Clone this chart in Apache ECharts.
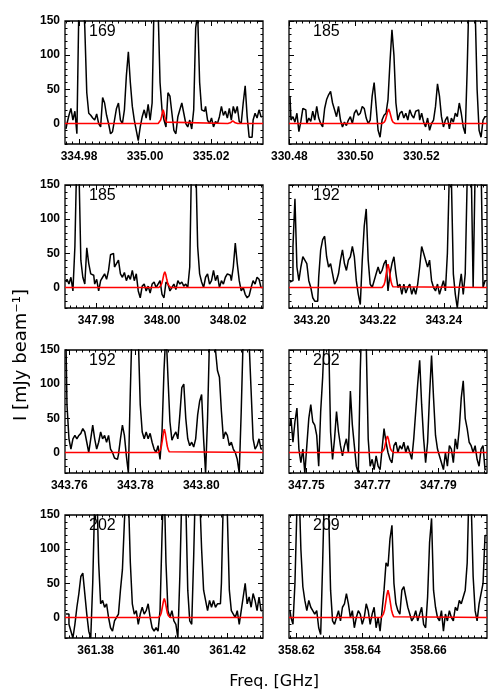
<!DOCTYPE html>
<html>
<head>
<meta charset="utf-8">
<script src="https://cdn.jsdelivr.net/npm/echarts@6/dist/echarts.min.js"></script>
<style>
html, body { margin: 0; background: #fff; }
#chart { width: 500px; height: 700px; }
</style>
</head>
<body>
<div id="chart"></div>
<script>
// panel labels and frequency windows (GHz)
const panelLabels = ['169', '185', '185', '192', '192', '202', '202', '209'];
const xMin = [334.97576, 330.4799, 347.97056, 343.1931, 343.7587, 347.74473, 361.3707, 358.61776];
const xSpan = 0.06;
const xTicks = [
  [334.98, 335.00, 335.02], [330.48, 330.50, 330.52],
  [347.98, 348.00, 348.02], [343.20, 343.22, 343.24],
  [343.76, 343.78, 343.80], [347.75, 347.77, 347.79],
  [361.38, 361.40, 361.42], [358.62, 358.64, 358.66]
];
const yTicks = [0, 50, 100, 150];
const chanWidth = 0.0006;

// observed spectra, mJy/beam, one value per channel
const spec1 = [
  -8, 0, 12, 22, 5, 18, -15, 170, 220, 200,
  140, 45, 15, 12, 8, 5, 14, 0, -5, 38,
  30, 12, 0, -15, -12, 5, 22, 30, 5, 0,
  20, 70, 105, 60, 25, 5, -10, -25, -5, 10,
  20, 8, 28, 5, 30, 180, 230, 170, 60, 20,
  5, -5, 45, 40, 15, -10, -15, 10, 20, 30,
  15, 0, -5, 5, -8, 20, 140, 160, 60, 20,
  18, 25, 5, 0, 8, -5, 3, 0, 10, 25,
  12, 18, 8, 22, 5, 25, 15, 25, 3, 0,
  30, 55, 10, -20, -20, 5, 15, 8, 20, 10
];
const spec2 = [
  40, 5, 10, 2, 15, -12, 3, 22, 20, 0,
  8, 3, 18, 5, 25, 8, 0, -5, 22, 35,
  42, 47, 30, 20, 10, 25, 5, -5, 2, -3,
  5, 10, 0, 15, 20, 12, 15, 25, 22, 8,
  0, 5, 40, 60, 25, -10, -20, 5, 12, 15,
  35, 90, 137, 100, 30, 5, 15, 18, 8, 15,
  5, 20, 12, 8, 18, 20, 5, 15, 2, -5,
  8, -10, 0, 5, 25, 58, 40, 10, -5, 5,
  10, -8, 8, 2, 15, 10, 30, 15, -5, -15,
  80, 200, 220, 180, 170, 50, -10, -20, 5, 10
];
const spec3 = [
  8, 12, 5, 15, -5, 60, 200, 180, 40, 15,
  5, 58, 35, 20, 18, 5, 12, -5, 10, 15,
  20, 12, 25, 48, 50, 30, 35, 40, 20, 15,
  22, 10, 18, 12, 25, 10, 20, -5, -15, 2,
  5, -5, 2, -8, 5, 8, 0, 5, 10, -10,
  -15, 8, 5, -5, 0, 5, -3, 10, 5, 8,
  2, 5, 0, 30, 200, 230, 190, 60, 20, 8,
  0, 15, 20, 5, 10, 25, 10, 18, 0, 10,
  5, 15, 20, 18, 10, 30, 65, 35, 10, -5,
  0, -10, -15, -12, 0, 10, 5, 15, 12, 0
];
const spec4 = [
  8, 10, 60, 130, 30, 10, 30, 45, 40, 35,
  10, 0, -15, -20, -20, 15, 55, 70, 75, 45,
  30, 35, 20, 5, 10, 20, 40, 55, 35, 25,
  40, 45, 60, 45, 10, -10, -25, 40, 90, 115,
  40, 5, 0, 10, 20, 30, 20, 25, 35, 40,
  -5, 20, 35, 45, 20, 0, 5, -10, 5, -8,
  0, 5, -10, 0, -10, 5, 30, 60, 50, 40,
  30, 40, 10, 0, -5, 5, -10, 0, 10, -5,
  50, 170, 160, 20, -10, -30, 0, 20, -10, 20,
  160, 200, 180, 0, 170, 210, 200, 180, 0, 10
];
const spec5 = [
  160, 70, 20, 5, 20, 25, 20, 25, 28, 35,
  30, 15, 0, 20, 40, 20, 5, 15, 30, 20,
  25, 15, 25, 5, 0, -8, -10, -3, 20, 40,
  25, -5, -30, 90, 200, 230, 210, 170, 70, 30,
  20, 30, 20, 28, 15, 5, 0, 10, -10, 30,
  120, 180, 110, 45, 18, 25, 30, 20, 55, 95,
  100, 50, 20, 10, 15, 8, 20, 55, 75, 85,
  20, -30, 50, 170, 220, 180, 150, 120, 110, 60,
  20, 30, 25, 10, 15, 5, 0, -10, -30, 60,
  170, 200, 180, 160, 90, 20, 5, 10, 20, 5
];
const spec6 = [
  40, 50, 15, 45, 65, 5, -15, 5, -30, 10,
  50, 70, 45, 40, 25, -20, 60, 110, 180, 210,
  170, 30, -10, 20, 60, 30, 10, -5, 10, 20,
  0, 90, 40, 10, -20, -30, 120, 220, 200, 160,
  20, -20, -10, -25, -5, -20, -25, 5, 35, 15,
  0, -10, -15, 10, 15, 0, 10, 5, 15, 0,
  10, 0, -10, 20, 60, 100, 135, 70, 20, -15,
  15, 85, 142, 80, 25, 5, -5, -15, -25, 0,
  -20, 10, 5, -15, 20, 5, 35, 80, 105, 50,
  35, 15, 10, 0, 10, -10, -20, 5, 10, -25
];
const spec7 = [
  5, 5, -10, -20, -30, -10, 15, 35, 60, 65,
  35, 5, -20, -30, 50, 170, 200, 80, 20, 25,
  15, 20, 0, -15, -20, -5, 0, 5, 40, 70,
  140, 200, 180, 80, 20, 5, 10, -10, 5, 15,
  5, 10, 20, 0, -15, -20, -15, -20, 10, 120,
  210, 80, 10, 0, 10, -5, -10, -30, 60, 180,
  220, 170, 40, -5, -10, 90, 210, 220, 180, 100,
  40, 25, 10, 25, 15, 25, 15, 20, 20, 50,
  180, 220, 150, 40, 10, 5, 0, 10, -10, 10,
  30, 50, 20, 30, 15, 35, 25, 10, 30, 10
];
const spec8 = [
  10, 0, -10, 50, 160, 200, 100, 45, 25, 10,
  25, 15, 10, 5, 10, -15, -25, 80, 200, 220,
  160, 40, -5, -10, 0, 10, -5, 15, 20, 35,
  20, 0, 10, -15, 0, 10, 5, -10, 0, 20,
  10, -10, 5, 15, -15, 0, -20, 10, 40, 80,
  75, 115, 135, 50, 20, 10, 5, 40, 45, 30,
  15, 5, -5, 0, 10, -5, 5, 15, -10, -15,
  30, 110, 145, 40, 15, 0, -5, 10, -20, 5,
  -5, 10, 0, -5, 15, 10, 25, 20, 30, 40,
  80, 200, 170, 60, 10, -5, 20, 35, 50, 120
];
const spectra = [spec1, spec2, spec3, spec4, spec5, spec6, spec7, spec8];

// model (red) line: line centres, sample spacing and sampled values
const redCenters = [[335.0055, 335.0266], [330.5101], [348.0008], [343.2231],
                    [343.7888], [347.77455], [361.40079], [358.64776]];
const redStep = [0.00025, 0.00033, 0.0003, 0.0003, 0.0003, 0.0003, 0.0003, 0.00035];
const red1a = [0, 1, 2, 5, 10, 16, 20, 16, 10, 5, 2, 1, 0];
const red1b = [0, 0, 1, 1, 2, 3, 4, 3, 2, 1, 1, 0, 0];
const red2 = [0, 1, 2, 5, 11, 17, 21, 17, 11, 5, 2, 1, 0];
const red3 = [0, 1, 3, 6, 12, 19, 23, 19, 12, 6, 3, 1, 0];
const red4 = [0, 1, 4, 9, 18, 28, 34, 28, 18, 9, 4, 1, 0];
const red5 = [0, 1, 4, 9, 18, 28, 34, 28, 18, 9, 4, 1, 0];
const red6 = [0, 1, 3, 6, 13, 20, 24, 20, 13, 6, 3, 1, 0];
const red7 = [0, 1, 3, 7, 15, 23, 28, 23, 15, 7, 3, 1, 0];
const red8 = [0, 1, 5, 11, 22, 33, 40, 33, 22, 11, 5, 1, 0];
const redValues = [[red1a, red1b], [red2], [red3], [red4], [red5], [red6], [red7], [red8]];

const colLeft = [65, 289];
const rowTop = [21, 185, 350, 515];
const panelW = 198, panelH = 123;

const chart = echarts.init(document.getElementById('chart'));

function stepList(lo, hi, step) {
  let out = [];
  for (let k = Math.ceil(lo / step - 1e-6); k * step <= hi + 1e-9; k++) {
    out.push(+(k * step).toFixed(6));
  }
  return out;
}

const tickFont = { color: '#000', fontSize: 12, fontWeight: 'bold', fontFamily: 'Liberation Sans' };

function xAxisOf(g, pos, vals, len, withLabels) {
  return {
    type: 'value', gridIndex: g, position: pos,
    min: xMin[g], max: xMin[g] + xSpan,
    axisLine: { show: false, onZero: false },
    splitLine: { show: false },
    axisTick: { show: true, inside: true, length: len, customValues: vals,
                lineStyle: { color: '#000', width: 1 } },
    axisLabel: withLabels
      ? Object.assign({ show: true, customValues: vals, margin: 7,
                        formatter: v => v.toFixed(2) }, tickFont)
      : { show: false }
  };
}
function yAxisOf(g, pos, vals, len, withLabels) {
  return {
    type: 'value', gridIndex: g, position: pos,
    min: -30, max: 150,
    axisLine: { show: false, onZero: false },
    splitLine: { show: false },
    axisTick: { show: true, inside: true, length: len, customValues: vals,
                lineStyle: { color: '#000', width: 1 } },
    axisLabel: withLabels
      ? Object.assign({ show: true, customValues: vals, margin: 5 }, tickFont)
      : { show: false }
  };
}

let grids = [], xAxes = [], yAxes = [], series = [], graphics = [];
const yMinor = stepList(-30, 150, 10);

for (let g = 0; g < 8; g++) {
  const left = colLeft[g % 2], top = rowTop[Math.floor(g / 2)];
  grids.push({ left: left, top: top, width: panelW, height: panelH,
               show: true, borderColor: '#000', borderWidth: 1.3,
               backgroundColor: 'transparent', outerBoundsMode: 'none' });

  const xMinor = stepList(xMin[g], xMin[g] + xSpan, 0.002);
  xAxes.push(xAxisOf(g, 'bottom', xTicks[g], 5, true));
  xAxes.push(xAxisOf(g, 'top', xTicks[g], 5, false));
  xAxes.push(xAxisOf(g, 'bottom', xMinor, 2.5, false));
  xAxes.push(xAxisOf(g, 'top', xMinor, 2.5, false));
  yAxes.push(yAxisOf(g, 'left', yTicks, 5, g % 2 === 0));
  yAxes.push(yAxisOf(g, 'right', yTicks, 5, false));
  yAxes.push(yAxisOf(g, 'left', yMinor, 2.5, false));
  yAxes.push(yAxisOf(g, 'right', yMinor, 2.5, false));

  series.push({
    type: 'line', xAxisIndex: 4 * g, yAxisIndex: 4 * g,
    data: spectra[g].map((v, k) => [xMin[g] + chanWidth * (k + 0.5), v]),
    step: 'middle', symbol: 'none', clip: true,
    lineStyle: { color: '#000', width: 1.5 }, z: 2
  });

  let redData = [[xMin[g], 0]];
  redCenters[g].forEach((c, j) => {
    redValues[g][j].forEach((v, k) => redData.push([c + (k - 6) * redStep[g], v]));
  });
  redData.push([xMin[g] + xSpan, 0]);
  series.push({
    type: 'line', xAxisIndex: 4 * g, yAxisIndex: 4 * g,
    data: redData, symbol: 'none', clip: true,
    lineStyle: { color: '#ff0000', width: 1.6 }, z: 3
  });

  graphics.push({
    type: 'text', x: left + 24, y: top + 11, z: 10,
    style: { text: panelLabels[g], fill: '#000', font: '16px "Liberation Sans"',
             textAlign: 'left', textVerticalAlign: 'middle' }
  });
}

graphics.push({
  type: 'text', x: 21, y: 355, rotation: Math.PI / 2,
  style: { text: 'I [mJy beam\u207B\u00B9]', fill: '#000', font: '18px "DejaVu Sans"',
           textAlign: 'center', textVerticalAlign: 'middle' }
});
graphics.push({
  type: 'text', x: 274, y: 682,
  style: { text: 'Freq. [GHz]', fill: '#000', font: '16px "DejaVu Sans"',
           textAlign: 'center', textVerticalAlign: 'middle' }
});

chart.setOption({
  animation: false,
  backgroundColor: '#fff',
  grid: grids,
  xAxis: xAxes,
  yAxis: yAxes,
  series: series,
  graphic: graphics
});
</script>
</body>
</html>
